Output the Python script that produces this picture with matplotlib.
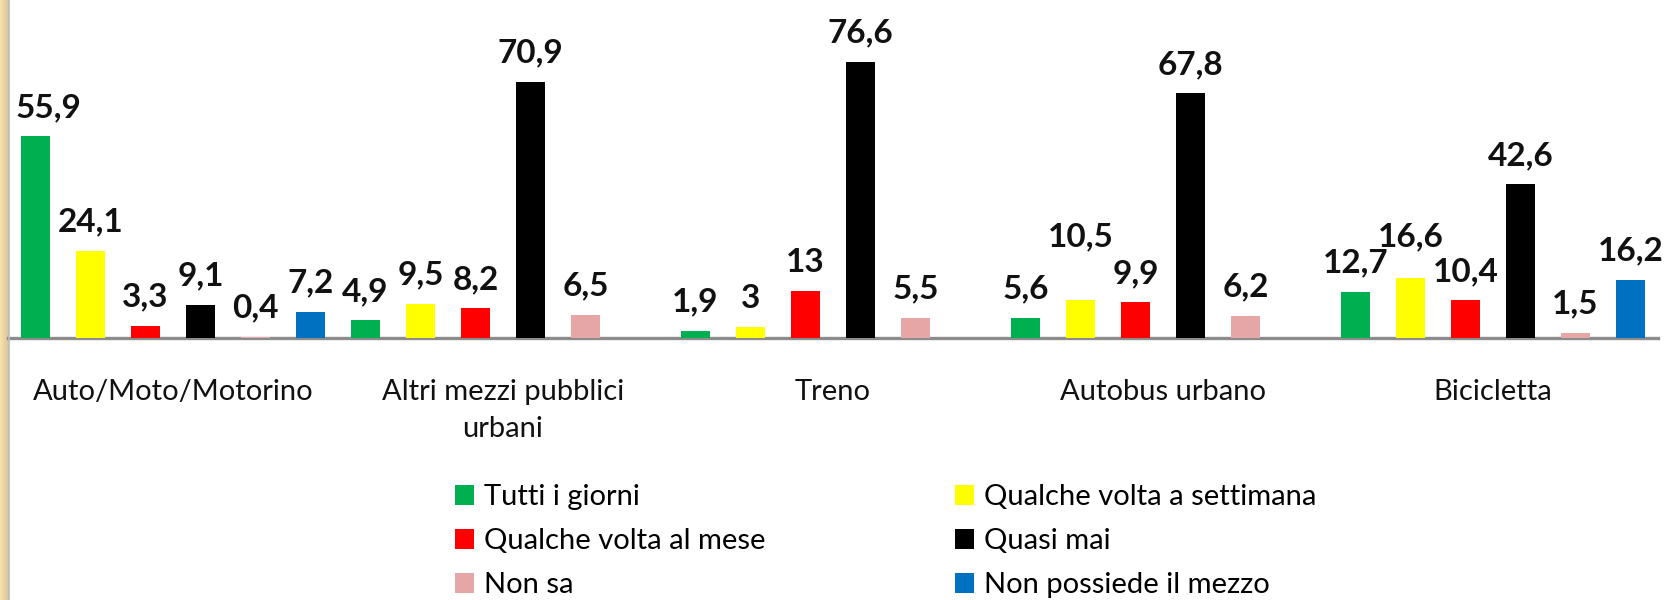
import matplotlib
matplotlib.use("Agg")
import matplotlib.pyplot as plt
import numpy as np
from matplotlib.patches import Patch
from matplotlib.colors import LinearSegmentedColormap

categories = ["Auto/Moto/Motorino", "Altri mezzi pubblici\nurbani", "Treno",
              "Autobus urbano", "Bicicletta"]
series_names = ["Tutti i giorni", "Qualche volta a settimana", "Qualche volta al mese",
                "Quasi mai", "Non sa", "Non possiede il mezzo"]
tutti = [55.9, 4.9, 1.9, 5.6, 12.7]
settimana = [24.1, 9.5, 3.0, 10.5, 16.6]
mese = [3.3, 8.2, 13.0, 9.9, 10.4]
quasi_mai = [9.1, 70.9, 76.6, 67.8, 42.6]
non_sa = [0.4, 6.5, 5.5, 6.2, 1.5]
non_possiede = [7.2, None, None, None, 16.2]

series = [tutti, settimana, mese, quasi_mai, non_sa, non_possiede]
colors = ["#00B050", "#FFFF00", "#FF0000", "#000000", "#E6A6A6", "#0070C0"]

W, H = 1666, 600
fig = plt.figure(figsize=(W / 100, H / 100), dpi=100)
fig.patch.set_facecolor("white")
FONT = "Lato"

# left decorative strip
strip = fig.add_axes([0, 0, 8.5 / W, 1])
grad = np.linspace(0, 1, 50).reshape(1, -1)
cm = LinearSegmentedColormap.from_list("s", ["#F6E2AA", "#D9C596"])
strip.imshow(grad, aspect="auto", cmap=cm, extent=[0, 1, 0, 1])
strip.axis("off")
fig.add_artist(plt.Line2D([9 / W, 9 / W], [0, 1], color="#BDBDBD", lw=1.2,
                          transform=fig.transFigure))

base_px = 338
ax = fig.add_axes([8 / W, (H - base_px) / H, 1650 / W, base_px / H])
ax.set_xlim(0, len(categories))
ax.set_ylim(0, base_px / 3.608)
ax.axis("off")
ax.axhline(0, color="#8C8C8C", lw=2.4, zorder=3, clip_on=False)

n = len(series)
slot = 1.0 / n
barw = slot * 0.51
x = np.arange(len(categories)) + 0.5

def fmt(v):
    s = ("%.1f" % v).rstrip("0").rstrip(".")
    return s.replace(".", ",")

# label nudges (points) to mimic the original label collision avoidance
nudges = {(0, 0): (9.5, 0), (4, 1): (0, 9), (3, 1): (0, 25)}
for j, (vals, col) in enumerate(zip(series, colors)):
    for i, v in enumerate(vals):
        if v is None:
            continue
        xi = x[i] + (j - (n - 1) / 2) * slot
        ax.bar(xi, v, width=barw, color=col, zorder=4)
        dx, dy = nudges.get((i, j), (0, 0))
        ax.annotate(fmt(v), (xi, v), xytext=(dx, 14 + dy), textcoords="offset points",
                    ha="center", va="baseline", fontsize=24, fontweight="bold",
                    family=FONT, color="#111111", annotation_clip=False)

for i, c in enumerate(categories):
    ax.text(x[i], -0.122, c, transform=ax.get_xaxis_transform(), ha="center", va="top",
            fontsize=21, family=FONT, color="#111111", linespacing=1.5)

handles = [Patch(facecolor=c, edgecolor="none") for c in colors]
cols = [[0, 2, 4], [1, 3, 5]]
xs = [455, 955]
for k, idxs in enumerate(cols):
    fig.legend([handles[i] for i in idxs], [series_names[i] for i in idxs],
               loc="upper left", bbox_to_anchor=(xs[k] / W, 1 - 484 / H),
               frameon=False, ncol=1, borderpad=0, borderaxespad=0,
               handlelength=0.66, handleheight=0.66, handletextpad=0.32,
               labelspacing=0.62, prop={"family": FONT, "size": 21})

fig.savefig("out.png", dpi=100, facecolor="white")
